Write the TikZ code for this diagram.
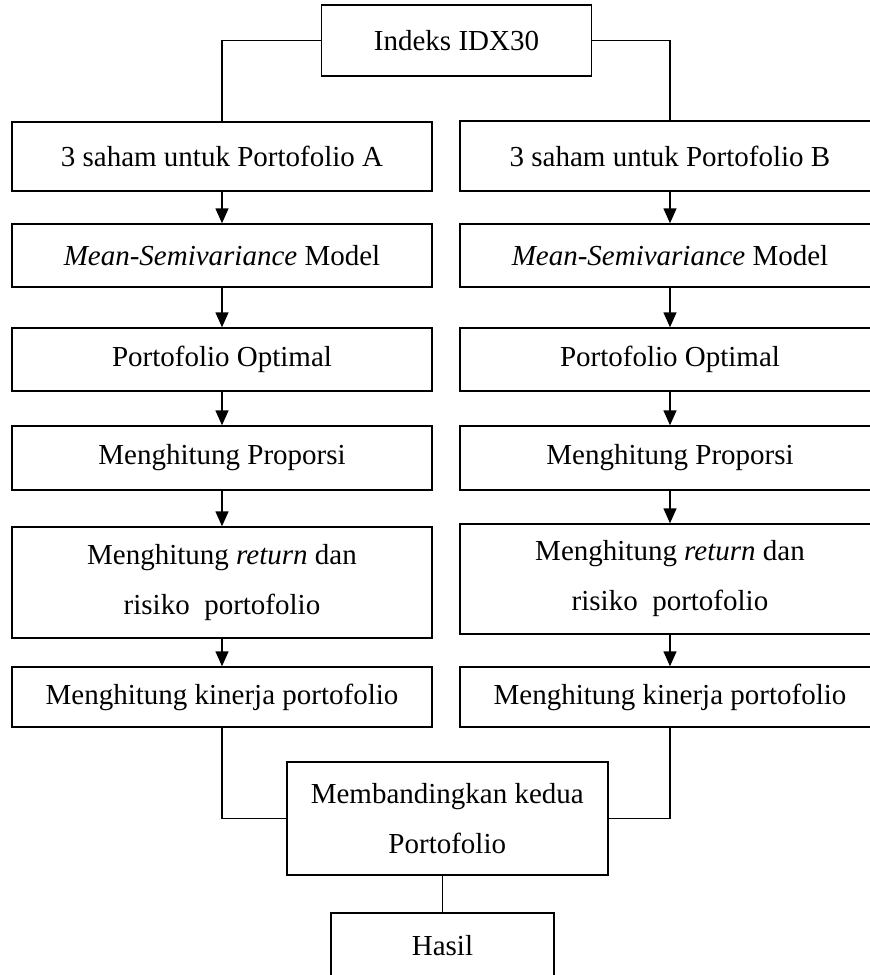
\documentclass[tikz,border=0pt]{standalone}
\usepackage{fontspec}
\setmainfont{Liberation Serif}
\usepackage{tikz}
\usetikzlibrary{positioning}
\usetikzlibrary{arrows.meta}

\begin{document}
\begin{tikzpicture}[x=0.5pt, y=-0.5pt, line width=0.7pt, every node/.style={font=\fontsize{14.5pt}{25pt}\selectfont}]
\tikzstyle{box}=[draw=black, rectangle, align=center, inner sep=0pt, minimum width=210pt]
\tikzstyle{flow}=[-{Triangle[width=6.5pt,length=7.5pt]}]
\useasboundingbox (0,0) rectangle (869,975);
\node[box, minimum width=135pt, minimum height=35.5pt] (idx) at (456.5,40.5) {Indeks IDX30};
% kolom kiri
\node[box, minimum height=34.5pt] (sahamA) at (222,156.5) {3 saham untuk Portofolio A};
\node[box, minimum height=31.5pt] (modelA) at (222,255.5) {\textit{Mean-Semivariance} Model};
\node[box, minimum height=31.5pt] (optA) at (222,359.5) {Portofolio Optimal};
\node[box, minimum height=32pt] (propA) at (222,458) {Menghitung Proporsi};
\node[box, minimum height=55.5pt] (retA) at (222,582.5) {Menghitung \textit{return} dan\\risiko\ \ portofolio};
\node[box, minimum height=30pt] (kinA) at (222,697) {Menghitung kinerja portofolio};
% kolom kanan
\node[box, minimum height=35pt] (sahamB) at (670,156) {3 saham untuk Portofolio B};
\node[box, minimum height=31.5pt] (modelB) at (670,255.5) {\textit{Mean-Semivariance} Model};
\node[box, minimum height=31.5pt] (optB) at (670,359.5) {Portofolio Optimal};
\node[box, minimum height=32pt] (propB) at (670,458) {Menghitung Proporsi};
\node[box, minimum height=55pt] (retB) at (670,579) {Menghitung \textit{return} dan\\risiko\ \ portofolio};
\node[box, minimum height=30pt] (kinB) at (670,697) {Menghitung kinerja portofolio};
% bawah
\node[box, minimum width=160.5pt, minimum height=56.5pt] (banding) at (447.3,818.5) {Membandingkan kedua\\Portofolio};
\node[box, minimum width=111.5pt, minimum height=33pt] (hasil) at (442.5,946) {Hasil};

\draw (idx.west) -| (sahamA.north);
\draw (idx.east) -| (sahamB.north);
\draw[flow] (sahamA) -- (modelA);
\draw[flow] (modelA) -- (optA);
\draw[flow] (optA) -- (propA);
\draw[flow] (propA) -- (retA);
\draw[flow] (retA) -- (kinA);
\draw[flow] (sahamB) -- (modelB);
\draw[flow] (modelB) -- (optB);
\draw[flow] (optB) -- (propB);
\draw[flow] (propB) -- (retB);
\draw[flow] (retB) -- (kinB);
\draw (kinA.south) |- (banding.west);
\draw (kinB.south) |- (banding.east);
\draw (hasil.north) -- (hasil.north |- banding.south);
\end{tikzpicture}
\end{document}
